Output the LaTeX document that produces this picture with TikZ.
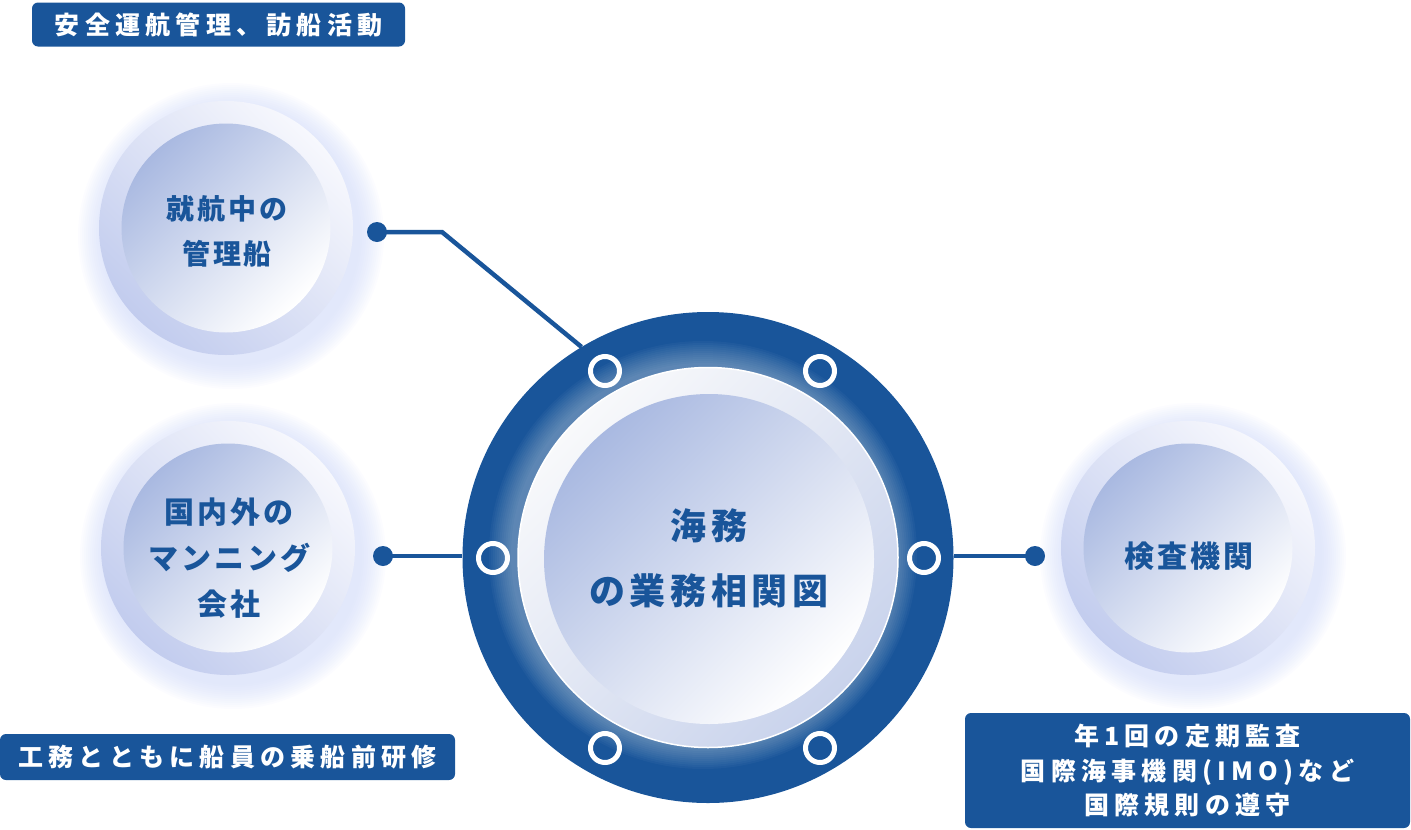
\documentclass[tikz,border=0pt]{standalone}
\usepackage{fontspec}
\newfontfamily\jplab[LetterSpace=21]{Noto Sans CJK JP}
\newfontfamily\jpsat[LetterSpace=10]{Noto Sans CJK JP}
\newfontfamily\jphub[LetterSpace=13]{Noto Sans CJK JP}
\definecolor{navy}{HTML}{19559A}
\definecolor{glowc}{HTML}{C9D4F8}
\definecolor{ringlt}{HTML}{F7F8FD}
\definecolor{ringdk}{HTML}{C2CCEE}
\definecolor{discA}{HTML}{A9B9E1}
\definecolor{discB}{HTML}{FFFFFF}
\definecolor{hubringA}{HTML}{F8F9FB}
\definecolor{hubringB}{HTML}{C9D3EC}
\newcommand{\satdisc}[2]{%
  \foreach \k in {0,...,12} {\fill[glowc, opacity=0.06] (#1+5,#2+8) circle[radius={(153-2*\k)*1pt}];}
  \shade[top color=ringlt, bottom color=ringdk, shading angle=-45] (#1,#2) circle (127pt);
  \shade[top color=discA, bottom color=discB, shading angle=45] (#1,#2) circle (104.5pt);
}
\tikzset{
  conn/.style={draw=navy, line width=4.5pt},
  dot/.style={circle, fill=navy, minimum size=20pt, inner sep=0pt},
  port/.style={circle, draw=white, line width=5pt, minimum size=29pt, inner sep=0pt},
  lab/.style={fill=navy, rounded corners=6pt, text=white, align=center, inner sep=0pt,
    font=\jplab\bfseries\fontsize{25}{34.5}\selectfont},
  sattext/.style={text=navy, align=center, font=\jpsat\bfseries\fontsize{30}{46}\selectfont},
  sattextsmall/.style={text=navy, align=center, font=\jpsat\bfseries\fontsize{28}{45}\selectfont},
  hubtext/.style={text=navy, align=center, font=\jphub\bfseries\fontsize{36}{65}\selectfont},
}
\begin{document}
\begin{tikzpicture}[x=1pt,y=-1pt]
\useasboundingbox (0,0) rectangle (1411,830);
% satellites
\satdisc{226}{228}
\satdisc{228}{548}
\satdisc{1188}{548}
\node[sattextsmall] (t1) at (227,231) {就航中の\\管理船};
\node[sattext] (t2) at (229,558) {国内外の\\マンニング\\会社};
\node[sattext] (t3) at (1189,556) {検査機関};
% hub
\node[circle, fill=navy, minimum size=491pt, inner sep=0pt] (hub) at (708,557.5) {};
\foreach \k in {0,...,11} {\fill[white, opacity=0.03] (703,555) circle[radius={(214-2*\k)*1pt}];}
\shade[top color=hubringA, bottom color=hubringB, shading angle=45] (hub.center) circle (190pt);
\draw[white, line width=1.5pt] (hub.center) circle (190pt);
\shade[top color=discA, bottom color=discB, shading angle=45] (709,559) circle (165pt);
\node[hubtext] (ht) at (709,558) {海務\\の業務相関図};
% ports
\node[port] (p1) at (605,371) {};
\node[port] (p2) at (820,371) {};
\node[port] (p3) at (493,558) {};
\node[port] (p4) at (924,558) {};
\node[port] (p5) at (605,748) {};
\node[port] (p6) at (820,748) {};
% connectors
\node[dot] (d1) at (377,232) {};
\node[dot] (d2) at (383,556) {};
\node[dot] (d3) at (1035,556) {};
\coordinate (b1) at (442,232);
\draw[conn] (d1.center) -- (b1) -- (hub.121);
\draw[conn] (d2.center) -- (d2.center -| hub.west);
\draw[conn] (d3.center -| hub.east) -- (d3.center);
% labels
\node[lab, minimum width=373pt, minimum height=44pt] (l1) at (218.5,24.5) {安全運航管理、訪船活動};
\node[lab, minimum width=455pt, minimum height=46pt] (l2) at (227.5,757) {工務とともに船員の乗船前研修};
\node[lab, minimum width=445pt, minimum height=115pt] (l3) at (1187.5,770.5) {年1回の定期監査\\国際海事機関(IMO)など\\国際規則の遵守};
\end{tikzpicture}
\end{document}
